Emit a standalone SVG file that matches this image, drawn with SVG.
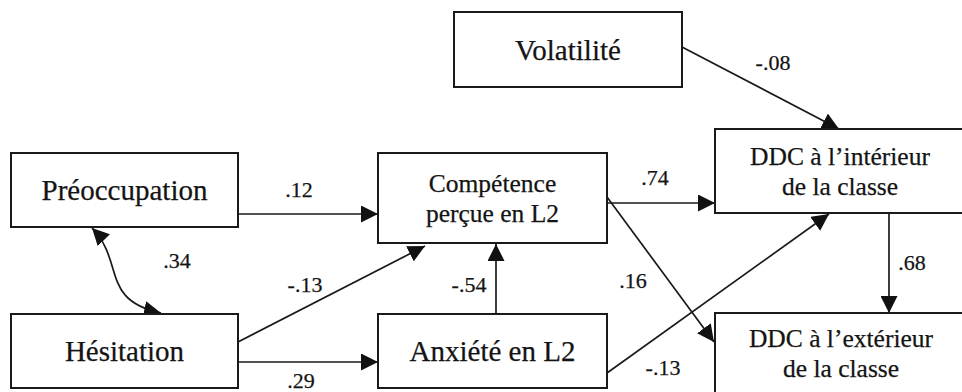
<svg xmlns="http://www.w3.org/2000/svg" width="962" height="392" viewBox="0 0 962 392" font-family="Liberation Serif, Times New Roman, Times, DejaVu Serif, serif">
  <style>
    .box { fill: #ffffff; stroke: #1a1a1a; stroke-width: 2; }
    text { font-family: 'Liberation Serif', 'Times New Roman', Times, 'DejaVu Serif', serif; fill: #141414; stroke: #141414; stroke-width: 0.25; text-anchor: middle; }
    .big { font-size: 29px; }
    .mid { font-size: 25.5px; }
    .coef { font-size: 22px; }
    .edge { fill: none; stroke: #1a1a1a; stroke-width: 1.7; }
  </style>
  <defs>
    <marker id="arrow" viewBox="0 0 16 16" refX="16" refY="8" markerWidth="17" markerHeight="17" markerUnits="userSpaceOnUse" orient="auto-start-reverse">
      <path d="M0,0 L16,8 L0,16 z" fill="#111111"/>
    </marker>
  </defs>
  <rect width="962" height="392" fill="#ffffff"/>

  <!-- connectors -->
  <g id="connectors">
    <line class="edge" x1="238" y1="214" x2="378" y2="214" marker-end="url(#arrow)"/>
    <line class="edge" x1="238" y1="362" x2="378" y2="362" marker-end="url(#arrow)"/>
    <line class="edge" x1="238" y1="342" x2="425" y2="246" marker-end="url(#arrow)"/>
    <path class="edge" d="M92 228 C125 262 100 300 161 313" marker-start="url(#arrow)" marker-end="url(#arrow)"/>
    <line class="edge" x1="496" y1="314" x2="496" y2="244" marker-end="url(#arrow)"/>
    <line class="edge" x1="607" y1="203" x2="715" y2="203" marker-end="url(#arrow)"/>
    <line class="edge" x1="607" y1="197" x2="714" y2="342" marker-end="url(#arrow)"/>
    <line class="edge" x1="607" y1="373" x2="829" y2="214" marker-end="url(#arrow)"/>
    <line class="edge" x1="682" y1="47" x2="839" y2="129" marker-end="url(#arrow)"/>
    <line class="edge" x1="889" y1="213" x2="889" y2="313" marker-end="url(#arrow)"/>

    <text class="coef" x="299" y="197">.12</text>
    <text class="coef" x="177" y="268">.34</text>
    <text class="coef" x="305" y="292">-.13</text>
    <text class="coef" x="301" y="388">.29</text>
    <text class="coef" x="469" y="292">-.54</text>
    <text class="coef" x="655" y="185">.74</text>
    <text class="coef" x="633" y="288">.16</text>
    <text class="coef" x="663" y="375">-.13</text>
    <text class="coef" x="773" y="70">-.08</text>
    <text class="coef" x="912" y="270">.68</text>
  </g>

  <!-- nodes -->
  <g id="volatilite">
    <rect class="box" x="454" y="12" width="228" height="75"/>
    <text class="big" x="568" y="60">Volatilité</text>
  </g>
  <g id="preoccupation">
    <rect class="box" x="11" y="153" width="227" height="74"/>
    <text class="big" x="124.5" y="200">Préoccupation</text>
  </g>
  <g id="hesitation">
    <rect class="box" x="11" y="314" width="227" height="74"/>
    <text class="big" x="124.5" y="361">Hésitation</text>
  </g>
  <g id="competence">
    <rect class="box" x="378" y="153" width="229" height="90"/>
    <text class="mid" x="492.5" y="192">Compétence</text>
    <text class="mid" x="492.5" y="222">perçue en L2</text>
  </g>
  <g id="anxiete">
    <rect class="box" x="378" y="314" width="229" height="74"/>
    <text class="big" x="492.5" y="361">Anxiété en L2</text>
  </g>
  <g id="ddc-interieur">
    <rect class="box" x="715" y="129" width="260" height="84"/>
    <text class="mid" x="840" y="165">DDC à l’intérieur</text>
    <text class="mid" x="840" y="195">de la classe</text>
  </g>
  <g id="ddc-exterieur">
    <rect class="box" x="715" y="313" width="260" height="90"/>
    <text class="mid" x="841" y="347">DDC à l’extérieur</text>
    <text class="mid" x="841" y="377">de la classe</text>
  </g>
</svg>
